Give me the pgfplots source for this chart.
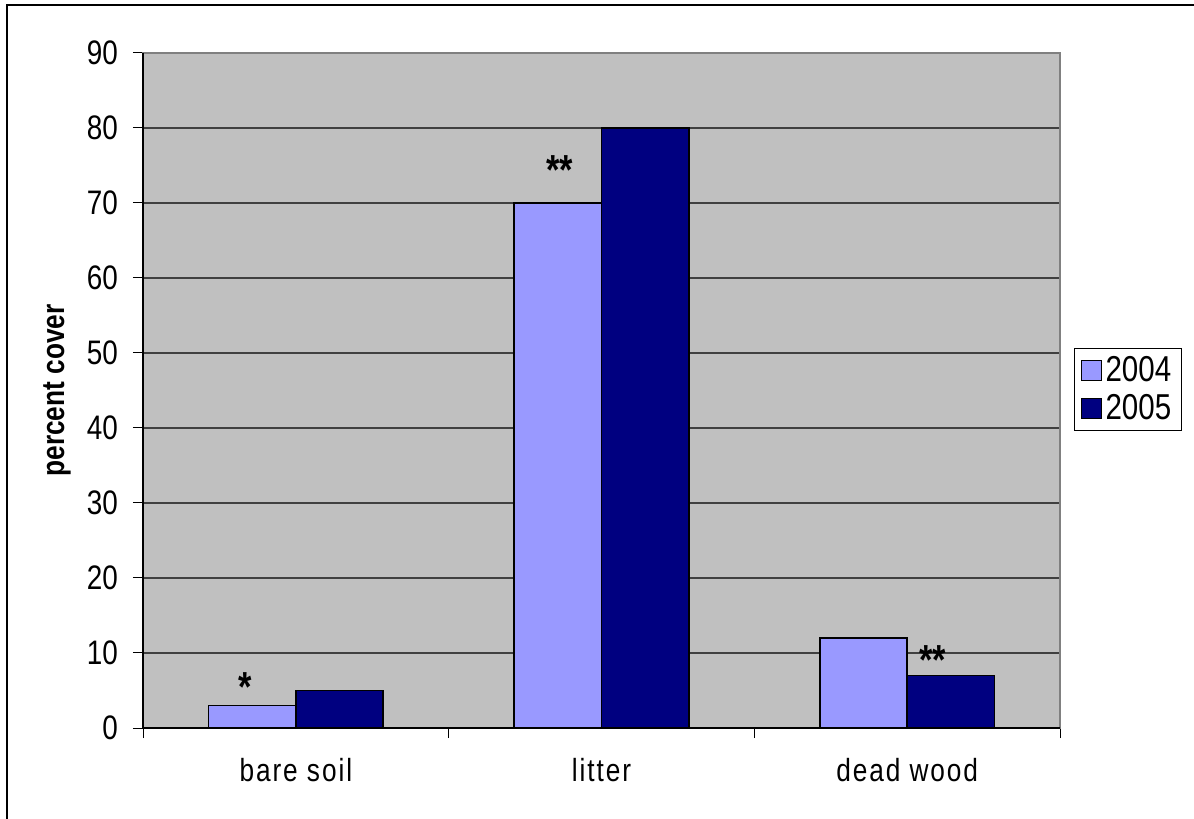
\documentclass[border=0pt]{standalone}
\usepackage{fontspec}
\IfFontExistsTF{Liberation Sans Narrow}
  {\setmainfont{Liberation Sans Narrow}}
  {\setmainfont{Liberation Sans}[FakeStretch=0.82]}
\usepackage{pgfplots}
\pgfplotsset{compat=1.18}

\definecolor{plotbg}{HTML}{C0C0C0}
\definecolor{lightbar}{HTML}{9999FF}
\definecolor{darkbar}{HTML}{000080}
\definecolor{framegray}{HTML}{808080}

\begin{document}
\begin{tikzpicture}
\begin{axis}[
    scale only axis,
    width=458.5bp, height=337.5bp,
    at={(0,0)}, anchor=south west,
    xmin=-0.5, xmax=2.5,
    ymin=0, ymax=90,
    ybar=0pt, bar width=0.2857,
    xtick={0,1,2},
    xticklabels={bare soil, litter, dead wood},
    every major x tick/.append style={draw=none},
    minor xtick={-0.5,0.5,1.5,2.5},
    ytick={0,10,...,90},
    tick align=outside, tick pos=left,
    major tick length=5bp, minor tick length=5bp,
    tick style={black, line width=0.5bp},
    ymajorgrids,
    grid style={black!75, line width=0.6bp},
    axis background/.style={fill=plotbg},
    axis line style={framegray, line width=1bp},
    /pgf/number format/assume math mode=true,
    yticklabel style={font=\fontsize{17bp}{20bp}\selectfont, xshift=-4bp},
    xticklabel style={font=\fontsize{16bp}{19bp}\selectfont\addfontfeature{LetterSpace=6}, anchor=center, yshift=-16bp},
    ylabel={percent cover},
    ylabel style={at={(axis description cs:-0.0938,0.5)}, anchor=center,
      font=\fontsize{16bp}{19bp}\selectfont\bfseries},
    legend style={at={(1.0153,0.563)}, anchor=north west,
      draw=black, line width=0.5bp, fill=white,
      font=\fontsize{18bp}{21bp}\selectfont,
      inner xsep=3bp, inner ysep=2bp, row sep=1bp,
      cells={anchor=west}},
    legend image code/.code={
      \draw[#1,/tikz/.cd,draw=black,line width=0.5bp] (0bp,-5bp) rectangle (10bp,5bp);
    },
]
\addplot[fill=lightbar, draw=black, line width=0.75bp] coordinates {(0,3) (1,70) (2,12)};
\addplot[fill=darkbar, draw=black, line width=0.75bp] coordinates {(0,5) (1,80) (2,7)};
\legend{2004,2005}

% significance marks
\node[anchor=base, font=\fontsize{21bp}{24bp}\selectfont\bfseries] at (axis cs:-0.166,3.6) {*};
\node[anchor=base, font=\fontsize{21bp}{24bp}\selectfont\bfseries] at (axis cs:0.864,72.4) {**};
\node[anchor=base, font=\fontsize{21bp}{24bp}\selectfont\bfseries] at (axis cs:2.084,7.2) {**};
\end{axis}

% black axis lines on the left and bottom of the plot area
\draw[black, line width=0.6bp] (0,337.5bp) -- (0,0) -- (458.5bp,0);
% chart border (right and bottom fall outside the picture)
\draw[black, line width=1.3bp] (-68bp,-60bp) -- (-68bp,361.5bp) -- (540bp,361.5bp);
\pgfresetboundingbox
\path[use as bounding box] (-71.5bp,-45.5bp) rectangle (525.5bp,364bp);
\end{tikzpicture}
\end{document}
